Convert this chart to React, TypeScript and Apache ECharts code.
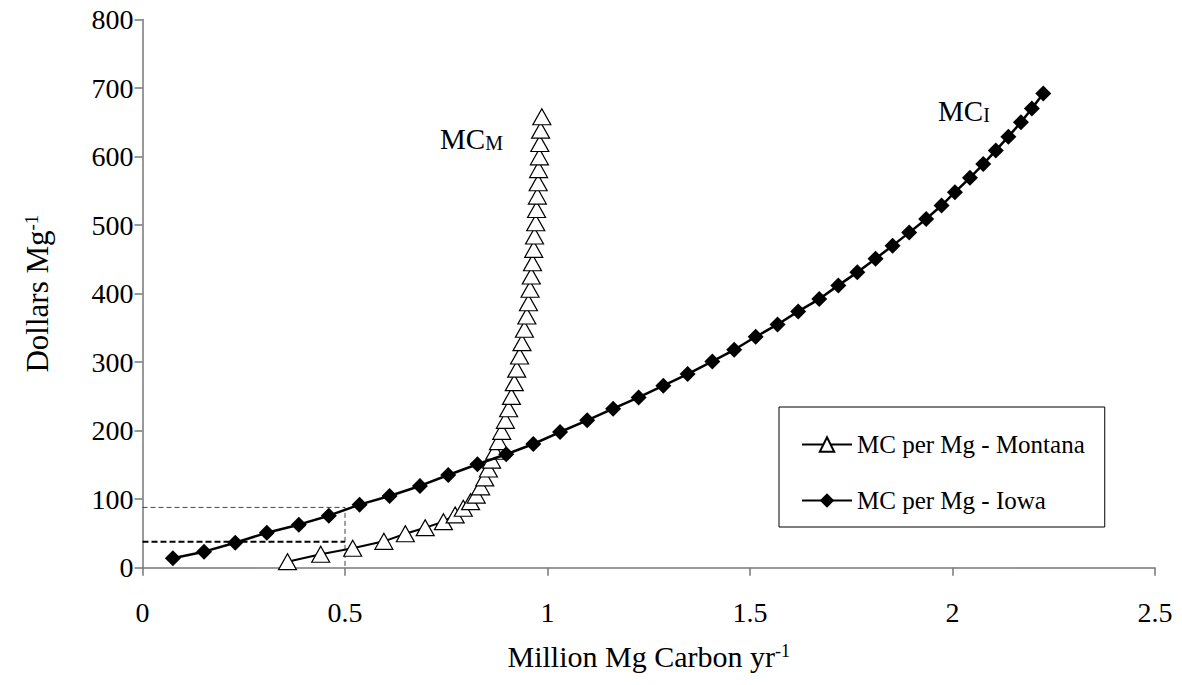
import React, { useEffect, useRef } from "react";
import * as echarts from "echarts";

// Montana marginal cost curve (Million Mg Carbon / yr , Dollars per Mg)
const montanaQ = [0.358, 0.44, 0.519, 0.596, 0.649, 0.698, 0.743, 0.772, 0.792, 0.81, 0.824, 0.835, 0.845, 0.854, 0.862, 0.87, 0.879, 0.887, 0.896, 0.904, 0.911, 0.918, 0.924, 0.931, 0.937, 0.943, 0.949, 0.953, 0.957, 0.96, 0.963, 0.966, 0.968, 0.971, 0.973, 0.975, 0.977, 0.978, 0.98, 0.981, 0.983, 0.986];
const montanaMC = [8.8, 19.6, 28.3, 38.5, 49.6, 58.4, 67.2, 77, 86.7, 96.4, 106, 118, 131, 144, 157, 170, 184, 199, 215, 232, 250, 270, 289.7, 309, 328.4, 348, 367.3, 386.7, 406.3, 425.7, 445, 464.6, 484, 503.4, 522.8, 542.3, 561.7, 581, 599.6, 619, 638.5, 658];

// Iowa marginal cost curve
const iowaQ = [0.075, 0.152, 0.229, 0.307, 0.386, 0.46, 0.536, 0.61, 0.685, 0.755, 0.827, 0.898, 0.965, 1.031, 1.098, 1.162, 1.225, 1.286, 1.346, 1.407, 1.461, 1.514, 1.568, 1.619, 1.671, 1.718, 1.765, 1.81, 1.852, 1.893, 1.935, 1.973, 2.006, 2.043, 2.076, 2.107, 2.138, 2.169, 2.196, 2.224];
const iowaMC = [13.7, 23.4, 36.5, 51.1, 62.8, 75.9, 92, 104.7, 119.3, 135.3, 150.9, 165.5, 180.5, 198, 215, 232, 248.5, 265.6, 282.6, 301, 318, 337, 355, 374, 392, 412, 431, 451, 470, 489, 509, 528.5, 548, 569, 589, 609, 629, 650, 670, 692];

// Reference (dashed) lines at 0.5 million Mg
const refQuantity = 0.5;
const refIowaMC = 88;
const refMontanaMC = 38;

const seriesNames = ["MC per Mg - Montana", "MC per Mg - Iowa"];

const FONT = "'Liberation Serif', 'Times New Roman', serif";

export default function App() {
  const ref = useRef<HTMLDivElement>(null);

  useEffect(() => {
    document.body.style.margin = "0";
    if (!ref.current) return;
    const chart = echarts.init(ref.current, undefined, { renderer: "svg" });

    const option: any = {
      animation: false,
      backgroundColor: "#fff",
      textStyle: { fontFamily: FONT, color: "#000" },
      grid: {
        left: 142.5,
        right: 27,
        top: 19.5,
        bottom: 117.3,
        containLabel: false,
        outerBoundsMode: "none",
      },
      xAxis: {
        type: "value",
        min: 0,
        max: 2.5,
        interval: 0.5,
        splitLine: { show: false },
        axisLine: { show: true, onZero: false, lineStyle: { color: "#777", width: 1.5 } },
        axisTick: { show: true, inside: false, length: 8, lineStyle: { color: "#777", width: 1.5 } },
        axisLabel: { fontSize: 28, fontFamily: FONT, color: "#000", margin: 31 },
        name: "Million Mg Carbon yr{sup|-1}",
        nameLocation: "middle",
        nameGap: 74,
        nameTextStyle: {
          fontSize: 30,
          fontFamily: FONT,
          color: "#000",
          rich: {
            sup: { fontSize: 18, fontFamily: FONT, color: "#000", verticalAlign: "top", lineHeight: 18 },
          },
        },
      },
      yAxis: {
        type: "value",
        min: 0,
        max: 800,
        interval: 100,
        splitLine: { show: false },
        axisLine: { show: true, onZero: false, lineStyle: { color: "#777", width: 1.5 } },
        axisTick: { show: true, inside: false, length: 8, lineStyle: { color: "#777", width: 1.5 } },
        axisLabel: { fontSize: 28, fontFamily: FONT, color: "#000", margin: 9 },
        name: "Dollars Mg{sup|-1}",
        nameLocation: "middle",
        nameRotate: 90,
        nameGap: 90,
        nameTextStyle: {
          fontSize: 31,
          fontFamily: FONT,
          color: "#000",
          rich: {
            sup: { fontSize: 19, fontFamily: FONT, color: "#000", verticalAlign: "top", lineHeight: 19 },
          },
        },
      },
      legend: {
        data: seriesNames,
        orient: "vertical",
        left: 779,
        top: 407,
        padding: [25, 20, 14, 22],
        itemGap: 31,
        itemWidth: 50,
        itemHeight: 18,
        borderColor: "#000",
        borderWidth: 1,
        backgroundColor: "#fff",
        textStyle: { fontSize: 25, fontFamily: FONT, color: "#000" },
        selectedMode: false,
      },
      series: [
        {
          name: "ref-iowa",
          type: "line",
          data: [
            [0, refIowaMC],
            [refQuantity, refIowaMC],
            [refQuantity, 0],
          ],
          showSymbol: false,
          symbol: "none",
          silent: true,
          lineStyle: { color: "#444", width: 1, type: [5, 3] },
          z: 1,
        },
        {
          name: "ref-montana",
          type: "line",
          data: [
            [0, refMontanaMC],
            [refQuantity, refMontanaMC],
          ],
          showSymbol: false,
          symbol: "none",
          silent: true,
          lineStyle: { color: "#000", width: 2, type: [6, 3] },
          z: 1,
        },
        {
          name: seriesNames[0],
          type: "line",
          data: montanaQ.map((q, i) => [q, montanaMC[i]]),
          symbol: "triangle",
          symbolSize: [18, 16],
          itemStyle: { color: "#fff", borderColor: "#000", borderWidth: 1.2 },
          lineStyle: { color: "#000", width: 2 },
          z: 2,
        },
        {
          name: seriesNames[1],
          type: "line",
          data: iowaQ.map((q, i) => [q, iowaMC[i]]),
          symbol: "diamond",
          symbolSize: 16,
          itemStyle: { color: "#000", borderColor: "#000", borderWidth: 0 },
          lineStyle: { color: "#000", width: 2.5 },
          z: 3,
        },
      ],
      graphic: [
        {
          type: "text",
          left: 440,
          top: 124,
          style: {
            text: "MC{s|M}",
            fontSize: 29,
            fontFamily: FONT,
            fill: "#000",
            rich: { s: { fontSize: 20, fontFamily: FONT, fill: "#000", verticalAlign: "bottom" } },
          },
        },
        {
          type: "text",
          left: 938,
          top: 96,
          style: {
            text: "MC{s|I}",
            fontSize: 29,
            fontFamily: FONT,
            fill: "#000",
            rich: { s: { fontSize: 20, fontFamily: FONT, fill: "#000", verticalAlign: "bottom" } },
          },
        },
      ],
    };

    chart.setOption(option);
    return () => chart.dispose();
  }, []);

  return <div ref={ref} style={{ width: 1182, height: 685 }} />;
}
